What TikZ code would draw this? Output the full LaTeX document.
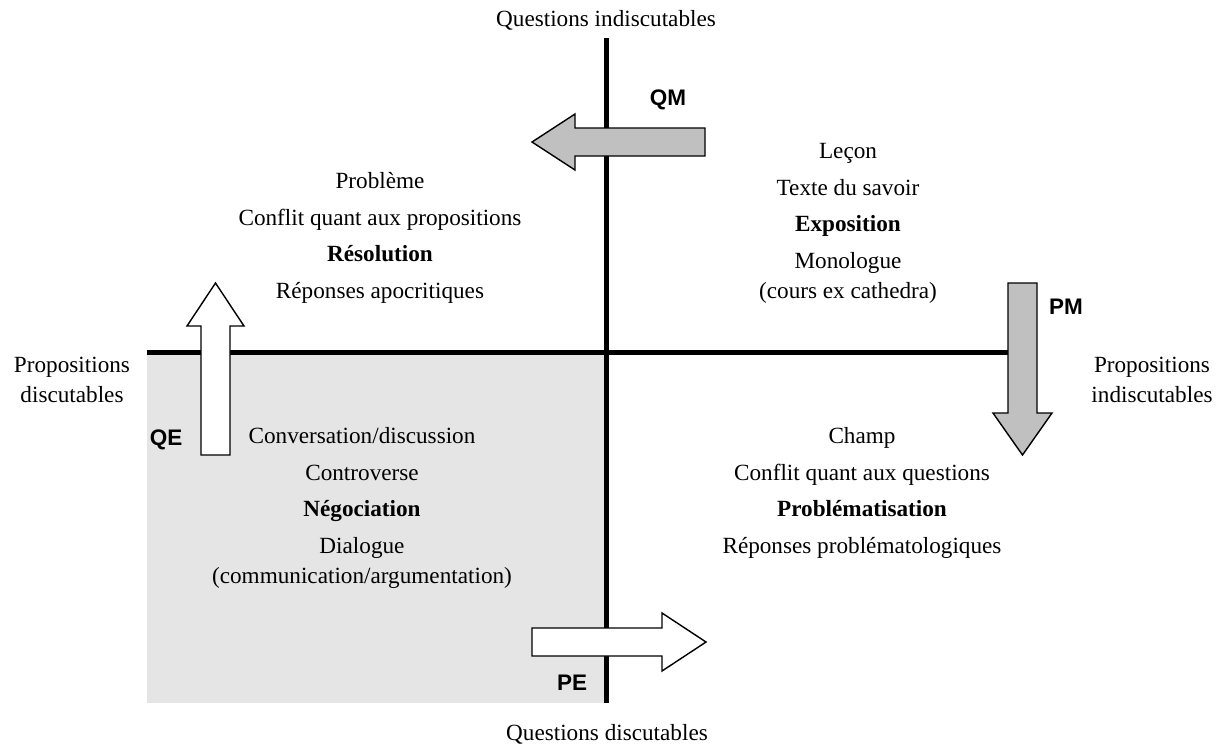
\documentclass[tikz,border=0pt]{standalone}
\usepackage{fontspec}
\setmainfont{Liberation Serif}
\newfontfamily\labelfont{Liberation Sans}
\usetikzlibrary{positioning}
\definecolor{quadgray}{HTML}{E5E5E5}
\definecolor{arrowgray}{HTML}{C0C0C0}

\begin{document}
\begin{tikzpicture}[x=0.2mm, y=-0.2mm,
      node distance=9pt,
      txt/.style={font=\fontsize{13.2}{15}\selectfont, inner sep=0,
        text height=8.8pt, text depth=2.7pt, align=center},
      bold/.style={txt, font=\fontsize{13.2}{15}\selectfont\bfseries},
      sub/.style={txt, below=5pt of #1},
      tag/.style={font=\labelfont\bfseries\fontsize{12.8}{14}\selectfont, inner sep=0},
      axis/.style={line width=1mm, black},
      blockarrow/.style={draw=black, line width=0.8pt, line join=miter}
    ]
      \useasboundingbox (0,0) rectangle (1221,745);

      % quadrants and axes
      \fill[quadgray] (147,352) rectangle (606,703);
      \coordinate (west) at (147,352);
      \coordinate (east) at (1037,352);
      \coordinate (north) at (606,38);
      \coordinate (south) at (606,703);
      \draw[axis] (west) -- (east);
      \draw[axis] (north) -- (south);

      % block arrows
      \draw[blockarrow, fill=arrowgray] (705,128) -- (575,128) -- (575,114) -- (532,142)
        -- (575,170) -- (575,156) -- (705,156) -- cycle;
      \draw[blockarrow, fill=white] (201,455) -- (201,326) -- (187,326) -- (215.5,283)
        -- (244,326) -- (230,326) -- (230,455) -- cycle;
      \draw[blockarrow, fill=arrowgray] (1008,283) -- (1008,413) -- (993,413) -- (1022.5,455)
        -- (1052,413) -- (1037,413) -- (1037,283) -- cycle;
      \draw[blockarrow, fill=white] (532,628) -- (662,628) -- (662,613) -- (706,642)
        -- (662,671) -- (662,656) -- (532,656) -- cycle;

      \node[tag] (qm) at (668,100) {QM};
      \node[tag] (qe) at (166,440) {QE};
      \node[tag] (pm) at (1066,307) {PM};
      \node[tag] (pe) at (572,683) {PE};

      % axis captions
      \node[txt] (qind) at (606,21) {Questions indiscutables};
      \node[txt] (qdis) at (607,735) {Questions discutables};
      \node[txt] (pdis) at (72,367) {Propositions};
      \node[sub=pdis] (pdis2) {discutables};
      \node[txt] (pind) at (1152,367) {Propositions};
      \node[sub=pind] (pind2) {indiscutables};

      % top left
      \node[txt] (probleme) at (380,183) {Problème};
      \node[txt, below=of probleme] (conflitp) {Conflit quant aux propositions};
      \node[bold, below=of conflitp] (resolution) {Résolution};
      \node[txt, below=of resolution] (apocr) {Réponses apocritiques};

      % top right
      \node[txt] (lecon) at (848,153) {Leçon};
      \node[txt, below=of lecon] (texte) {Texte du savoir};
      \node[bold, below=of texte] (exposition) {Exposition};
      \node[txt, below=of exposition] (monologue) {Monologue};
      \node[sub=monologue] (cours) {(cours ex cathedra)};

      % bottom left
      \node[txt] (conversation) at (362,438) {Conversation/discussion};
      \node[txt, below=of conversation] (controverse) {Controverse};
      \node[bold, below=of controverse] (negociation) {Négociation};
      \node[txt, below=of negociation] (dialogue) {Dialogue};
      \node[sub=dialogue] (commu) {(communication/argumentation)};

      % bottom right
      \node[txt] (champ) at (862,438) {Champ};
      \node[txt, below=of champ] (conflitq) {Conflit quant aux questions};
      \node[bold, below=of conflitq] (problematisation) {Problématisation};
      \node[txt, below=of problematisation] (problemato) {Réponses problématologiques};
    \end{tikzpicture}
\end{document}
